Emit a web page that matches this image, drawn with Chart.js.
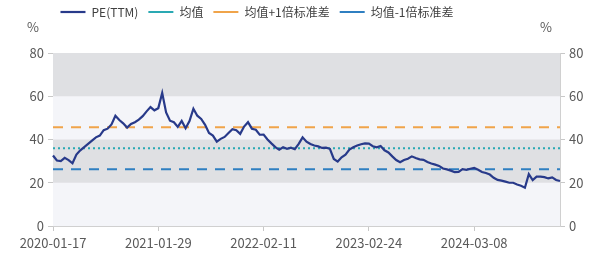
<!DOCTYPE html>
<html>
<head>
<meta charset="utf-8">
<script src="https://cdn.jsdelivr.net/npm/chart.js@4"></script>
<style>
  html, body { margin: 0; padding: 0; background: #fff; }
  #wrap { width: 600px; height: 262px; position: relative; }
</style>
</head>
<body>
<div id="wrap"><canvas id="monGraphe"></canvas></div>
<script>
// biweekly PE(TTM)
var startDate = '2020-01-17';
var nbPoints = 131;
var tickLabels = ['2020-01-17', '2021-01-29', '2022-02-11', '2023-02-24', '2024-03-08'];
var pe = [
  32.6, 30.3, 30.0, 31.5, 30.5, 29.0, 33.0, 35.0, 36.5, 38.0,
  39.5, 41.0, 41.8, 44.3, 45.0, 47.0, 51.0, 49.0, 47.5, 45.5,
  47.2, 48.0, 49.2, 50.8, 53.0, 55.0, 53.5, 54.5, 61.5, 52.5,
  48.7, 48.0, 45.8, 48.6, 45.2, 48.5, 54.2, 51.0, 49.5, 46.8,
  43.0, 41.8, 39.0, 40.3, 41.2, 43.0, 44.8, 44.3, 42.6, 46.0,
  48.0, 45.0, 44.5, 42.2, 42.3, 40.0, 38.2, 36.5, 35.3, 36.4,
  35.7, 36.2, 35.5, 38.0, 41.0, 39.0, 37.9, 37.2, 36.8, 36.1,
  36.2, 35.7, 31.0, 29.8, 31.8, 33.0, 35.3, 36.4, 37.2, 37.8,
  38.2, 38.1, 36.9, 36.4, 37.0, 35.0, 34.0, 32.2, 30.5, 29.5,
  30.5, 31.1, 32.2, 31.4, 30.8, 30.6, 29.6, 28.9, 28.4, 27.8,
  26.6, 26.2, 25.6, 24.9, 25.0, 26.3, 26.0, 26.5, 26.9, 26.0,
  25.0, 24.5, 23.8, 22.3, 21.3, 21.0, 20.5, 20.0, 20.0, 19.2,
  18.6, 17.7, 24.0, 21.2, 22.8, 22.8, 22.6, 22.0, 22.5, 21.3,
  20.8
];
var moyenne = 36.0;
var plusUn = 45.7;
var moinsUn = 26.3;
var bandesGrises = [[20, 40], [60, 80]];

// dates toutes les 2 semaines
var dates = [];
var d0 = new Date(startDate + 'T00:00:00Z');
for (let i = 0; i < nbPoints; i++) {
  var d = new Date(d0.getTime() + i * 14 * 86400000);
  dates.push(d.toISOString().slice(0, 10));
}

var police = '"Noto Sans CJK SC", "Noto Sans", sans-serif';
var gris = '#595959';

const fond = {
  id: 'fond',
  afterLayout(chart) {
    chart.legend.left -= 43;
    chart.legend.right -= 43;
    chart.legend.top -= 25;
    chart.legend.bottom -= 25;
  },
  beforeDatasetsDraw(chart) {
    const ctx = chart.ctx, a = chart.chartArea, y = chart.scales.y;
    ctx.save();
    ctx.fillStyle = '#f4f5f9';
    ctx.fillRect(a.left, a.top, a.right - a.left, a.bottom - a.top);
    ctx.fillStyle = '#dfe0e3';
    for (const b of bandesGrises) {
      const y1 = y.getPixelForValue(b[1]), y0 = y.getPixelForValue(b[0]);
      ctx.fillRect(a.left, y1, a.right - a.left, y0 - y1);
    }
    ctx.restore();
  },
  afterDraw(chart) {
    const ctx = chart.ctx, a = chart.chartArea;
    ctx.save();
    ctx.fillStyle = gris;
    ctx.font = '13px ' + police;
    ctx.textAlign = 'center';
    ctx.textBaseline = 'middle';
    ctx.fillText('%', a.left - 20, a.top - 26);
    ctx.fillText('%', a.right - 14, a.top - 26);
    ctx.restore();
  }
};

function ligne(v) { return dates.map(function () { return v; }); }

const ctx = document.getElementById('monGraphe');
new Chart(ctx, {
  type: 'line',
  data: {
    labels: dates,
    datasets: [
      { label: 'PE(TTM)', data: pe, borderColor: '#283a8a', borderWidth: 2.2, pointRadius: 0, tension: 0 },
      { label: '均值', data: ligne(moyenne), borderColor: '#2aa9b3', borderWidth: 2, borderDash: [2, 3], pointRadius: 0 },
      { label: '均值+1倍标准差', data: ligne(plusUn), borderColor: '#f0a44a', borderWidth: 2, borderDash: [10, 8], pointRadius: 0 },
      { label: '均值-1倍标准差', data: ligne(moinsUn), borderColor: '#2f7fc1', borderWidth: 2, borderDash: [10, 8], pointRadius: 0 }
    ]
  },
  options: {
    responsive: true,
    maintainAspectRatio: false,
    animation: false,
    layout: { padding: { top: 21, left: 0, right: 0, bottom: 0 } },
    plugins: {
      tooltip: { enabled: false },
      legend: {
        position: 'top',
        labels: {
          usePointStyle: true,
          pointStyle: 'line',
          pointStyleWidth: 25,
          boxHeight: 12,
          padding: 10,
          color: '#404040',
          font: { family: police, size: 12 }
        }
      }
    },
    scales: {
      x: {
        afterFit: function (s) { s.height = 36; },
        grid: {
          drawOnChartArea: false,
          tickLength: 5,
          color: function (c) { return c.tick && tickLabels.includes(dates[c.index]) ? '#c8c8c8' : 'transparent'; }
        },
        border: { color: '#d0d0d0' },
        ticks: {
          autoSkip: false,
          maxRotation: 0,
          padding: 4,
          color: gris,
          font: { family: police, size: 13 },
          callback: function (val, i) { return tickLabels.includes(dates[i]) ? dates[i] : ''; }
        }
      },
      y: {
        position: 'left',
        min: 0, max: 80,
        afterFit: function (s) { s.width = 53; },
        grid: { drawOnChartArea: false, tickLength: 5, color: '#c8c8c8' },
        border: { color: '#d0d0d0' },
        ticks: { stepSize: 20, padding: 4, color: gris, font: { family: police, size: 13 } }
      },
      y2: {
        position: 'right',
        min: 0, max: 80,
        afterFit: function (s) { s.width = 40; },
        grid: { drawOnChartArea: false, tickLength: 5, color: '#c8c8c8' },
        border: { color: '#d0d0d0' },
        ticks: { stepSize: 20, padding: 4, color: gris, font: { family: police, size: 13 } }
      }
    }
  },
  plugins: [fond]
});
</script>
</body>
</html>
